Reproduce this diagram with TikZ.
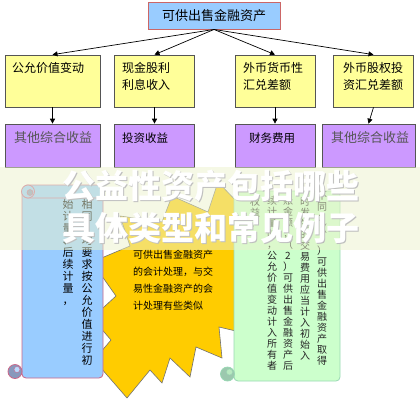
\documentclass[tikz,border=0pt]{standalone}
\usepackage{fontspec}
\newfontfamily\cjk{Noto Sans CJK SC}
\usetikzlibrary{arrows.meta}
\definecolor{topblue}{HTML}{99CCFF}
\definecolor{topline}{HTML}{CC6666}
\definecolor{ybox}{HTML}{FFFF99}
\definecolor{pbox}{HTML}{CC99FF}
\definecolor{boxline}{HTML}{555555}
\definecolor{cream}{HTML}{ECF2CC}
\definecolor{stary}{HTML}{FFCC00}
\definecolor{scrollblue}{HTML}{99CCFF}
\definecolor{scrollpink}{HTML}{CC6688}
\definecolor{curlblue}{HTML}{8898BC}
\definecolor{scrollgreen}{HTML}{CCFFCC}
\definecolor{greenline}{HTML}{99D8B4}
\definecolor{curlgreen}{HTML}{9CC8AE}
\definecolor{graytxt}{HTML}{555555}
\begin{document}
\begin{tikzpicture}[x=1pt,y=-1pt,
  topbox/.style={draw=topline, fill=topblue, line width=0.9pt, minimum width=132pt, minimum height=27pt, inner sep=0pt, font=\cjk\fontsize{13}{15}\selectfont},
  yellowbox/.style={draw=boxline, fill=ybox, line width=0.7pt, inner sep=0pt},
  purplebox/.style={draw=boxline, fill=pbox, line width=0.7pt, inner sep=0pt},
  ytext/.style={anchor=north west, align=left, inner sep=0pt, font=\cjk\fontsize{12}{17}\selectfont},
  ptextgray/.style={inner sep=0pt, text=graytxt, font=\cjk\fontsize{13}{15}\selectfont},
  ptext/.style={inner sep=0pt, font=\cjk\fontsize{11.5}{14}\selectfont},
  arr/.style={-{Triangle[length=5pt,width=5pt]}, line width=0.7pt, draw=black},
  titletext/.style={inner sep=0pt, font=\cjk\bfseries\fontsize{33}{36}\selectfont},
  vcolb/.style={anchor=north, align=center, inner sep=0pt, font=\cjk\fontsize{11}{12}\selectfont},
  vcolg/.style={anchor=north, align=center, inner sep=0pt, text=black!85, font=\cjk\fontsize{10}{11}\selectfont},
  startext/.style={anchor=north west, align=left, inner sep=0pt, font=\cjk\fontsize{10}{17}\selectfont}
]
\useasboundingbox (0,0) rectangle (420,400);
\fill[white] (0,0) rectangle (420,400);

% top node
\node[topbox] (top) at (214,15.5) {可供出售金融资产};

% yellow boxes
\node[yellowbox, minimum width=95pt, minimum height=52pt] (y1) at (52.5,81) {};
\node[yellowbox, minimum width=80pt, minimum height=52pt] (y2) at (154.5,81) {};
\node[yellowbox, minimum width=80pt, minimum height=52pt] (y3) at (275,81) {};
\node[yellowbox, minimum width=80pt, minimum height=52pt] (y4) at (373.5,81) {};
\node[ytext] (ty1) at (12,62) {公允价值变动};
\node[ytext] (ty2) at (122,62) {现金股利\\利息收入};
\node[ytext] (ty3) at (243,62) {外币货币性\\汇兑差额};
\node[ytext] (ty4) at (343,62) {外币股权投\\资汇兑差额};

% purple boxes
\node[purplebox, minimum width=95pt, minimum height=43pt] (p1) at (52.5,145.5) {};
\node[purplebox, minimum width=80pt, minimum height=43pt] (p2) at (154.5,145.5) {};
\node[purplebox, minimum width=80pt, minimum height=43pt] (p3) at (275,145.5) {};
\node[purplebox, minimum width=93pt, minimum height=43pt] (p4) at (368.5,145.5) {};
\node[ptextgray] (tp1) at (53,138) {其他综合收益};
\node[ptext, anchor=west] (tp2) at (122,138) {投资收益};
\node[ptext] (tp3) at (272,138) {财务费用};
\node[ptextgray] (tp4) at (370,138) {其他综合收益};

% arrows
\draw[arr] (top.south) -- (y1.north);
\draw[arr] (top.south) -- (y2.north);
\draw[arr] (top.south) -- (y3.north);
\draw[arr] (top.south) -- (y4.north);
\draw[arr] (y1.south) -- (p1.north);
\draw[arr] (y2.south) -- (p2.north);
\draw[arr] (y3.south) -- (p3.north);
\draw[arr] (y4.south) -- (p4.north);

% starburst
\draw[fill=stary, draw=black!55, line width=0.6pt, line join=miter]
  (218,182) -- (208,212) -- (172,196) -- (162,222) -- (120,216) -- (130,246)
  -- (92,262) -- (116,296) -- (92,318) -- (111,340) -- (94,360) -- (127,398)
  -- (150,370) -- (162,383) -- (170,358) -- (190,377) -- (196,347) -- (222,358)
  -- (219,327) -- (240,332) -- (240,205) -- cycle;
\node[startext] (st) at (133,249.5) {可供出售金融资产\\的会计处理，与交\\易性金融资产的会\\计处理有些类似};

% blue scroll
\draw[fill=scrollblue, draw=scrollpink, line width=0.8pt, rounded corners=4pt] (22,188) rectangle (103,378);
\draw[fill=scrollblue, draw=scrollpink, line width=0.8pt, rounded corners=3pt] (24,185) rectangle (103,198);
\draw[fill=scrollblue, draw=scrollpink, line width=0.8pt] (28,191.5) circle (6.5);
\draw[fill=curlblue, draw=scrollpink, line width=0.5pt] (30,192.5) circle (3);
\draw[fill=curlblue, draw=scrollpink, line width=0.8pt] (15,371.5) circle (7);
\draw[fill=scrollblue!70!white, draw=scrollpink, line width=0.4pt] (17,369.5) circle (3);
\node[vcolb] (b1) at (87,199.5) {相\\同\\，\\均\\要\\求\\按\\公\\允\\价\\值\\进\\行\\初};
\node[vcolb] (b2) at (68,199.5) {始\\计\\量\\、\\后\\续\\计\\量\\，};

% green scroll
\draw[fill=scrollgreen, draw=greenline, line width=0.8pt, rounded corners=4pt] (234,191) rectangle (340,381);
\draw[fill=curlgreen, draw=greenline, line width=0.8pt] (227.5,374) circle (7);
\draw[fill=scrollgreen!60!curlgreen, draw=greenline, line width=0.4pt] (229.5,372) circle (3);
\node[vcolg] (g1) at (322,192) {不\\同\\：\\（\\1\\）\\可\\供\\出\\售\\金\\融\\资\\产\\取\\得};
\node[vcolg] (g2) at (305,197) {时\\发\\生\\的\\交\\易\\费\\用\\应\\当\\计\\入\\初\\始\\入};
\node[vcolg] (g3) at (288,196) {账\\金\\额\\；\\（\\2\\）\\可\\供\\出\\售\\金\\融\\资\\产\\后};
\node[vcolg] (g4) at (272,196) {续\\计\\量\\时\\，\\公\\允\\价\\值\\变\\动\\计\\入\\所\\有\\者};
\node[vcolg] (g5) at (255,197) {权\\益\\。};

% overlay band
\fill[cream, opacity=0.5] (0,167) rectangle (420,250);

% title
\node[titletext, text=black!25] (t1s) at (212,187) {公益性资产包括哪些};
\node[titletext, text=black!25] (t2s) at (212,229) {具体类型和常见例子};
\node[titletext, text=white] (t1) at (211,186) {公益性资产包括哪些};
\node[titletext, text=white] (t2) at (211,228) {具体类型和常见例子};
\end{tikzpicture}
\end{document}
